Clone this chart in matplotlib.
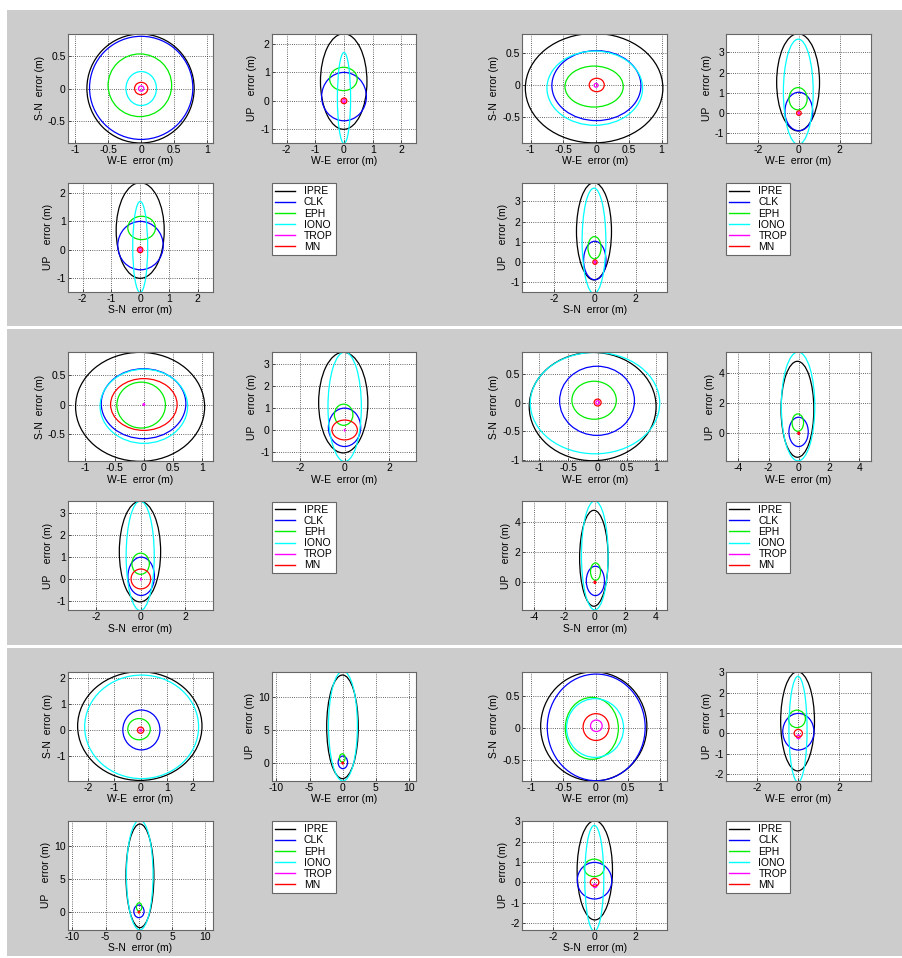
import matplotlib
matplotlib.use("Agg")
import matplotlib.pyplot as plt
from matplotlib.patches import Ellipse, Rectangle
from matplotlib.lines import Line2D
from matplotlib.ticker import MultipleLocator, FuncFormatter

# Fehlerquellen und Farben (MATLAB-Standardfarben)
quellen = ["IPRE", "CLK", "EPH", "IONO", "TROP", "MN"]
farben = ["#000000", "#0000ff", "#00ee00", "#00ffff", "#ff00ff", "#ff0000"]

# Halbachsen der Fehlerellipsen (m), je Panel eine Zeile, Reihenfolge wie quellen
halb_e = [
    [0.81, 0.78, 0.48, 0.23, 0.04, 0.10],
    [1.05, 0.68, 0.445, 0.73, 0.03, 0.115],
    [1.106, 0.725, 0.416, 0.75, 0.015, 0.57],
    [1.085, 0.64, 0.38, 1.107, 0.03, 0.06],
    [2.38, 0.71, 0.43, 2.18, 0.04, 0.12],
    [0.82, 0.756, 0.41, 0.44, 0.09, 0.20],
]
halb_n = [
    [0.835, 0.79, 0.48, 0.26, 0.04, 0.095],
    [0.855, 0.547, 0.32, 0.58, 0.03, 0.105],
    [0.926, 0.594, 0.39, 0.63, 0.015, 0.44],
    [0.94, 0.60, 0.33, 0.88, 0.03, 0.06],
    [2.10, 0.77, 0.41, 2.00, 0.04, 0.12],
    [0.855, 0.835, 0.485, 0.46, 0.09, 0.21],
]
halb_u = [
    [1.68, 0.85, 0.41, 1.60, 0.06, 0.10],
    [2.40, 0.95, 0.55, 2.60, 0.05, 0.11],
    [2.28, 0.87, 0.48, 2.48, 0.04, 0.45],
    [3.20, 0.98, 0.58, 3.63, 0.05, 0.08],
    [7.83, 0.95, 0.62, 8.30, 0.08, 0.15],
    [2.44, 0.90, 0.43, 2.60, 0.09, 0.19],
]
# Mittelpunkte (Bias) der Ellipsen (m)
mitte_e = [
    [-0.01, 0.0, -0.02, 0.0, 0.0, 0.0],
    [-0.03, 0.005, -0.03, -0.02, 0.0, 0.01],
    [-0.064, -0.005, -0.046, 0.0, 0.0, 0.0],
    [-0.085, -0.01, -0.06, -0.045, 0.0, 0.0],
    [-0.03, 0.03, -0.06, 0.04, 0.0, 0.0],
    [-0.03, 0.008, -0.06, -0.01, 0.01, 0.005],
]
mitte_n = [
    [0.0, 0.01, 0.05, 0.0, 0.0, 0.0],
    [-0.045, -0.005, -0.02, -0.045, 0.0, 0.005],
    [-0.04, 0.014, -0.01, -0.03, 0.0, 0.0],
    [-0.07, 0.03, 0.04, -0.01, 0.0, 0.0],
    [0.16, 0.01, 0.04, 0.13, 0.0, 0.0],
    [0.02, 0.005, -0.01, -0.005, 0.03, 0.01],
]
mitte_u = [
    [0.68, 0.15, 0.77, 0.10, 0.0, 0.0],
    [1.52, 0.08, 0.71, 1.05, 0.0, 0.0],
    [1.25, 0.13, 0.70, 1.06, 0.0, 0.01],
    [1.60, 0.09, 0.71, 1.79, 0.0, 0.0],
    [5.47, 0.10, 0.77, 5.60, 0.0, 0.0],
    [0.59, 0.08, 0.71, 0.20, -0.17, 0.0],
]

# Achsengrenzen je Panel: horizontal (W-E / S-N) und vertikal (UP)
h_xlim = [(-1.11, 1.08), (-1.128, 1.086), (-1.305, 1.18), (-1.29, 1.19), (-2.79, 2.76), (-1.135, 1.104)]
h_ylim = [(-0.83, 0.84), (-0.897, 0.806), (-0.965, 0.887), (-1.02, 0.872), (-1.95, 2.26), (-0.83, 0.877)]
v_xlim = [(-2.52, 2.52), (-3.55, 3.53), (-3.28, 3.22), (-4.8, 4.77), (-10.7, 11.1), (-3.49, 3.52)]
v_ylim = [(-1.47, 2.36), (-1.46, 3.92), (-1.41, 3.53), (-1.87, 5.4), (-2.67, 13.8), (-2.33, 3.03)]
h_schritt = [0.5, 0.5, 0.5, 0.5, 1, 0.5]
v_schritt_x = [1, 2, 2, 2, 5, 2]
v_schritt_y = [1, 1, 1, 2, 5, 1]

B, H = 903.0, 958.0
plt.rcParams['font.family'] = ['Liberation Sans', 'DejaVu Sans']
plt.rcParams['font.size'] = 7.5

fig = plt.figure(figsize=(B / 100, H / 100), dpi=100)
fig.patch.set_facecolor("white")

# graue Hintergrundbaender (drei Zeilen)
for y0, y1 in [(10, 326), (329, 645), (648, 956)]:
    fig.add_artist(Rectangle((7 / B, 1 - y1 / H), (902 - 7) / B, (y1 - y0) / H,
                             transform=fig.transFigure, facecolor="#cccccc",
                             edgecolor="none", zorder=-10))


def achse(x0, y0, x1, y1):
    # Achse in Pixelkoordinaten anlegen
    return fig.add_axes([x0 / B, 1 - y1 / H, (x1 - x0) / B, (y1 - y0) / H])


def format_achse(ax, xlim, ylim, sx, sy, xlabel, ylabel):
    ax.set_xlim(xlim)
    ax.set_ylim(ylim)
    ax.xaxis.set_major_locator(MultipleLocator(sx))
    ax.yaxis.set_major_locator(MultipleLocator(sy))
    fmt = FuncFormatter(lambda v, p: "%g" % (round(v, 6) + 0.0))
    ax.xaxis.set_major_formatter(fmt)
    ax.yaxis.set_major_formatter(fmt)
    ax.grid(True, color="#333333", linestyle=(0, (1, 1.6)), linewidth=0.6)
    ax.set_axisbelow(True)
    ax.tick_params(direction="in", length=2, width=0.6, pad=1.5, colors="#333333",
                   labelcolor="black", labelsize=7.5)
    for s in ax.spines.values():
        s.set_color("#666666")
        s.set_linewidth(0.8)
    ax.set_xlabel(xlabel, labelpad=1)
    ax.set_ylabel(ylabel, labelpad=2)


def ellipse(ax, cx, cy, ax_x, ax_y, farbe):
    ax.add_patch(Ellipse((cx, cy), 2 * ax_x, 2 * ax_y, fill=False,
                         edgecolor=farbe, linewidth=0.9))


for p in range(6):
    dx = [0, 454.5][p % 2]
    dy = [0, 318.6, 638][p // 2]

    ax_h = achse(67.7 + dx, 33.7 + dy, 212.7 + dx, 142.7 + dy)
    ax_eu = achse(271.7 + dx, 33.7 + dy, 416.3 + dx, 142.7 + dy)
    ax_nu = achse(67.7 + dx, 182.7 + dy, 212.7 + dx, 291.7 + dy)

    for i in range(len(quellen)):
        ellipse(ax_h, mitte_e[p][i], mitte_n[p][i], halb_e[p][i], halb_n[p][i], farben[i])
        ellipse(ax_eu, mitte_e[p][i], mitte_u[p][i], halb_e[p][i], halb_u[p][i], farben[i])
        ellipse(ax_nu, mitte_n[p][i], mitte_u[p][i], halb_n[p][i], halb_u[p][i], farben[i])

    format_achse(ax_h, h_xlim[p], h_ylim[p], h_schritt[p], h_schritt[p],
                 "W-E  error (m)", "S-N  error (m)")
    format_achse(ax_eu, v_xlim[p], v_ylim[p], v_schritt_x[p], v_schritt_y[p],
                 "W-E  error (m)", "UP    error (m)")
    format_achse(ax_nu, v_xlim[p], v_ylim[p], v_schritt_x[p], v_schritt_y[p],
                 "S-N  error (m)", "UP    error (m)")

    # Legende
    handles = [Line2D([], [], color=f, linewidth=1.0) for f in farben]
    leg = fig.legend(handles, quellen, loc="upper left",
                     bbox_to_anchor=((271.7 + dx) / B, 1 - (183.3 + dy) / H),
                     bbox_transform=fig.transFigure, fancybox=False, framealpha=1,
                     edgecolor="#666666", borderaxespad=0, borderpad=0.3,
                     handlelength=1.9, handletextpad=0.9, labelspacing=0.1,
                     fontsize=7.5)
    leg.get_frame().set_linewidth(0.8)

fig.savefig("out.png", dpi=100)
